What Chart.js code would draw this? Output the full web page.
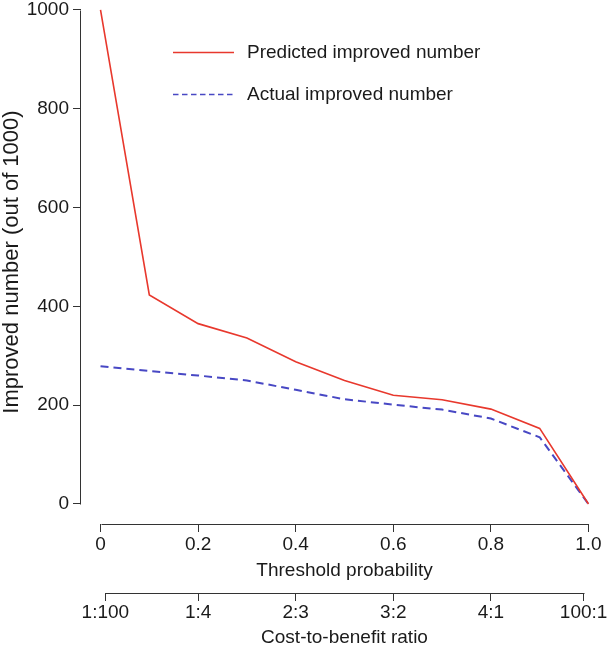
<!DOCTYPE html>
<html><head><meta charset="utf-8">
<script src="https://cdn.jsdelivr.net/npm/chart.js@4.4.0/dist/chart.umd.min.js"></script>
<style>html,body{margin:0;padding:0;background:#fff;}#wrap{width:610px;height:647px;position:relative;}</style>
</head><body><div id="wrap"><canvas id="c" width="610" height="647"></canvas></div>
<script>
const thresholds = [0, 0.1, 0.2, 0.3, 0.4, 0.5, 0.6, 0.7, 0.8, 0.9, 1.0];
const predicted = [1000, 423, 365, 336, 288, 250, 220, 211, 192, 153, 0];
const actual = [279, 269, 260, 250, 231, 212, 201, 191, 173, 135, 0];
const seriesNames = ['Predicted improved number', 'Actual improved number'];
const probTicks = [0, 0.2, 0.4, 0.6, 0.8, 1.0];
const probLabels = ['0', '0.2', '0.4', '0.6', '0.8', '1.0'];
const ratioTicks = [0.01, 0.2, 0.4, 0.6, 0.8, 0.99];
const ratioLabels = ['1:100', '1:4', '2:3', '3:2', '4:1', '100:1'];
const yTicks = [0, 200, 400, 600, 800, 1000];
const yLabels = ['0', '200', '400', '600', '800', '1000'];

const FONT = "'Liberation Sans', Arial, Helvetica, sans-serif";
const TEXT = '#1a1a1a';
const AXIS = '#333333';
const FS = 19;

function pts(xs, ys) { return xs.map((x, i) => ({ x: x, y: ys[i] })); }

function fixedTicks(values) {
  return function (s) { s.ticks = values.map(v => ({ value: v })); };
}
function labelFor(values, labels) {
  return function (v) { const i = values.indexOf(v); return i >= 0 ? labels[i] : ''; };
}
function gridOpts() {
  return { display: true, drawOnChartArea: false, drawTicks: true, tickLength: 8, tickColor: AXIS, tickWidth: 1 };
}

const axisLinePlugin = {
  id: 'raxis',
  afterDraw(chart) {
    const ctx = chart.ctx;
    ctx.save();
    ctx.strokeStyle = AXIS;
    ctx.lineWidth = 1;
    ['x', 'x2'].forEach(id => {
      const s = chart.scales[id];
      const vals = s.ticks.map(t => t.value);
      const a = s.getPixelForValue(Math.min(...vals));
      const b = s.getPixelForValue(Math.max(...vals));
      const y = Math.round(s.top) + 0.5;
      ctx.beginPath(); ctx.moveTo(Math.round(a) + 0.5, y); ctx.lineTo(Math.round(b) + 0.5, y); ctx.stroke();
    });
    const sy = chart.scales.y;
    const yv = sy.ticks.map(t => t.value);
    const x = Math.round(sy.right) - 0.5;
    ctx.beginPath();
    ctx.moveTo(x, Math.round(sy.getPixelForValue(Math.min(...yv))) + 0.5);
    ctx.lineTo(x, Math.round(sy.getPixelForValue(Math.max(...yv))) + 0.5);
    ctx.stroke();
    ctx.restore();
  }
};

const legendPlugin = {
  id: 'rlegend',
  afterDraw(chart) {
    const ctx = chart.ctx;
    const rows = [52, 94];
    const x0 = 173, x1 = 234, tx = 247;
    ctx.save();
    chart.data.datasets.forEach((ds, i) => {
      const y = rows[i] + 0.5;
      ctx.strokeStyle = ds.borderColor;
      ctx.lineWidth = 1.3;
      ctx.setLineDash(ds.borderDash && ds.borderDash.length ? [5.5, 3.5] : []);
      ctx.beginPath(); ctx.moveTo(x0, y); ctx.lineTo(x1, y); ctx.stroke();
      ctx.setLineDash([]);
      ctx.fillStyle = TEXT;
      ctx.font = FS + 'px ' + FONT;
      ctx.textBaseline = 'middle';
      ctx.textAlign = 'left';
      ctx.fillText(ds.label, tx, rows[i] + 1);
    });
    ctx.restore();
  }
};

new Chart(document.getElementById('c'), {
  type: 'line',
  data: {
    datasets: [
      { label: seriesNames[0], data: pts(thresholds, predicted), borderColor: '#e8382d', borderWidth: 1.6,
        pointRadius: 0, fill: false, tension: 0, xAxisID: 'x', yAxisID: 'y' },
      { label: seriesNames[1], data: pts(thresholds, actual), borderColor: '#4848c4', borderWidth: 2,
        borderDash: [8, 5], pointRadius: 0, fill: false, tension: 0, xAxisID: 'x', yAxisID: 'y' }
    ]
  },
  options: {
    responsive: false,
    animation: false,
    devicePixelRatio: 1,
    layout: { padding: { left: 0, right: 2, top: 0, bottom: 0 } },
    plugins: { legend: { display: false }, tooltip: { enabled: false } },
    scales: {
      x: {
        type: 'linear', position: 'bottom', min: -0.04, max: 1.04, weight: 0,
        afterBuildTicks: fixedTicks(probTicks),
        afterFit(s) { s.height = 69; s.paddingLeft = 0; s.paddingRight = 0; },
        ticks: { autoSkip: false, maxRotation: 0, padding: 3.5, color: TEXT,
          font: { family: FONT, size: FS, lineHeight: 1 }, callback: labelFor(probTicks, probLabels) },
        grid: gridOpts(), border: { display: false },
        title: { display: true, text: 'Threshold probability', color: TEXT,
          font: { family: FONT, size: FS, lineHeight: 1 }, padding: { top: 0, bottom: 13 } }
      },
      x2: {
        type: 'linear', axis: 'x', position: 'bottom', min: -0.04, max: 1.04, weight: 1,
        afterBuildTicks: fixedTicks(ratioTicks),
        afterFit(s) { s.height = 54; s.paddingLeft = 0; s.paddingRight = 0; },
        ticks: { autoSkip: false, maxRotation: 0, padding: 2.5, color: TEXT,
          font: { family: FONT, size: FS, lineHeight: 1 }, callback: labelFor(ratioTicks, ratioLabels) },
        grid: gridOpts(), border: { display: false },
        title: { display: true, text: 'Cost-to-benefit ratio', color: TEXT,
          font: { family: FONT, size: FS, lineHeight: 1 }, padding: { top: 0, bottom: 0 } }
      },
      y: {
        type: 'linear', position: 'left', min: -40.5, max: 1020,
        afterBuildTicks: fixedTicks(yTicks),
        afterFit(s) { s.width = 81; s.paddingTop = 0; s.paddingBottom = 0; },
        ticks: { autoSkip: false, padding: 4, color: TEXT,
          font: { family: FONT, size: FS, lineHeight: 1 }, callback: labelFor(yTicks, yLabels) },
        grid: gridOpts(), border: { display: false },
        title: { display: true, text: 'Improved number (out of 1000)', color: TEXT,
          font: { family: FONT, size: 22, lineHeight: 1 }, padding: { top: 1, bottom: 0 } }
      }
    }
  },
  plugins: [axisLinePlugin, legendPlugin]
});
</script>
</body></html>
